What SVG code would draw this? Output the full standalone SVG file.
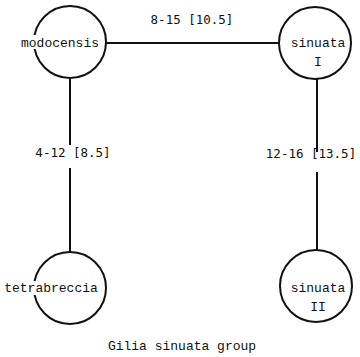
<svg xmlns="http://www.w3.org/2000/svg" width="360" height="357" viewBox="0 0 360 357">
  <style>
    .node circle { fill: #ffffff; stroke: #111111; stroke-width: 2; }
    .node rect { fill: #ffffff; }
    .node text { font-family: "Liberation Mono", "DejaVu Sans Mono", monospace; font-size: 13px; fill: #111111; text-anchor: middle; }
    .edges line { stroke: #111111; stroke-width: 2; }
    .edge-label { font-family: "DejaVu Sans Mono", "Liberation Mono", monospace; font-size: 12.5px; fill: #111111; text-anchor: middle; }
    .caption { font-family: "Liberation Mono", monospace; font-size: 13px; fill: #111111; text-anchor: middle; }
  </style>
  <rect width="360" height="357" fill="#ffffff"/>

  <g class="edges" id="connectors">
    <line x1="106" y1="43" x2="279" y2="43"/>
    <line x1="70" y1="78" x2="70" y2="145"/>
    <line x1="70" y1="168" x2="70" y2="252"/>
    <line x1="317" y1="79" x2="317" y2="152"/>
    <line x1="317" y1="172" x2="317" y2="250"/>
    <text class="edge-label" x="192" y="24">8-15 [10.5]</text>
    <text class="edge-label" x="73" y="157">4-12 [8.5]</text>
    <text class="edge-label" x="311" y="158">12-16 [13.5]</text>
  </g>

  <g class="node" id="modocensis">
    <circle cx="70" cy="42" r="36"/>
    <rect x="19" y="35" width="83" height="14"/>
    <text x="60" y="47">modocensis</text>
  </g>
  <g class="node" id="sinuata-I">
    <circle cx="315" cy="43" r="36"/>
    <text x="318" y="47">sinuata</text>
    <text x="318" y="66">I</text>
  </g>
  <g class="node" id="tetrabreccia">
    <circle cx="70" cy="288" r="36"/>
    <rect x="3" y="281" width="97" height="14"/>
    <text x="51" y="292">tetrabreccia</text>
  </g>
  <g class="node" id="sinuata-II">
    <circle cx="316" cy="286" r="36"/>
    <text x="318" y="292">sinuata</text>
    <text x="318" y="311">II</text>
  </g>

  <text class="caption" x="182" y="350">Gilia sinuata group</text>
</svg>
